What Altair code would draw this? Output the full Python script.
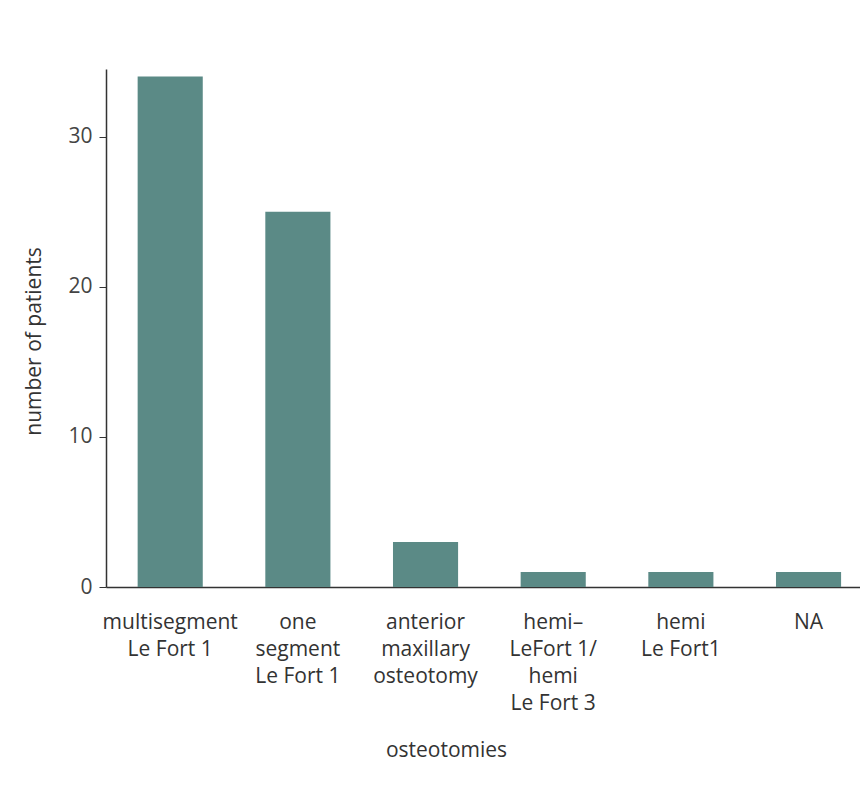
import altair as alt
import pandas as pd

categories = [
    "multisegment|Le Fort 1",
    "one|segment|Le Fort 1",
    "anterior|maxillary|osteotomy",
    "hemi–|LeFort 1/|hemi|Le Fort 3",
    "hemi|Le Fort1",
    "NA",
]
patients = [34, 25, 3, 1, 1, 1]

df = pd.DataFrame({"osteotomies": categories, "patients": patients})

FONT = "Open Sans"
TEXT = "#333333"

chart = (
    alt.Chart(df)
    .mark_bar(color="#5b8a86")
    .encode(
        x=alt.X(
            "osteotomies:N",
            sort=categories,
            scale=alt.Scale(paddingInner=0.49, paddingOuter=0.198, align=0.626),
            axis=alt.Axis(
                title="osteotomies",
                labelAngle=0,
                ticks=False,
                labelExpr="split(datum.label, '|')",
                labelLineHeight=27.3,
                labelPadding=24,
                labelFontSize=21,
                labelFont=FONT,
                labelColor=TEXT,
                titleFont=FONT,
                titleFontSize=21,
                titleFontWeight="normal",
                titleColor=TEXT,
                titleX=340,
                titleY=163,
                titleBaseline="middle",
                domainColor="#333333",
                domainWidth=1.5,
                labelLimit=300,
            ),
        ),
        y=alt.Y(
            "patients:Q",
            scale=alt.Scale(domain=[0, 34.5], nice=False),
            axis=alt.Axis(
                title="number of patients",
                values=[0, 10, 20, 30],
                grid=False,
                tickSize=7,
                tickColor="#333333",
                labelPadding=7,
                labelFontSize=21,
                labelFont=FONT,
                labelColor="#444444",
                titleFont=FONT,
                titleFontSize=21,
                titleFontWeight="normal",
                titleColor=TEXT,
                titleX=-72,
                titleY=272,
                titleAngle=270,
                titleAlign="center",
                titleBaseline="middle",
                domainColor="#333333",
                domainWidth=1.5,
            ),
        ),
    )
    .properties(
        width=754,
        height=518,
        autosize=alt.AutoSizeParams(type="none"),
        padding={"left": 98, "top": 61, "right": 0, "bottom": 180},
    )
    .configure_view(stroke=None)
)

chart.save("out.html", embed_options={"renderer": "svg", "actions": False})
